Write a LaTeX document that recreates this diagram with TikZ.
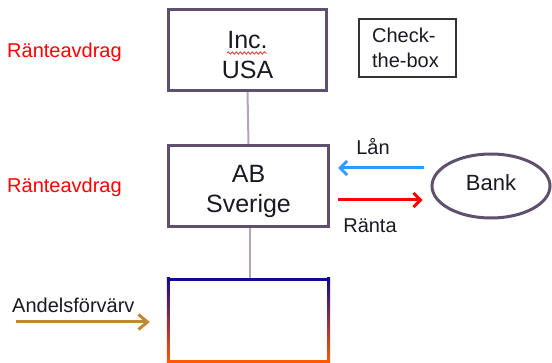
\documentclass[tikz,border=0pt]{standalone}
\usepackage{fontspec}
\setmainfont{Liberation Sans}
\usetikzlibrary{arrows.meta,shapes.geometric,decorations.pathmorphing}

\definecolor{boxline}{RGB}{95,80,110}
\definecolor{linkline}{RGB}{180,165,190}
\definecolor{loanblue}{RGB}{51,153,255}
\definecolor{ratered}{RGB}{255,0,0}
\definecolor{buybrown}{RGB}{192,136,52}
\definecolor{gradtop}{RGB}{20,10,140}
\definecolor{gradmid}{RGB}{190,10,100}
\definecolor{gradbot}{RGB}{255,90,0}
\definecolor{txt}{RGB}{25,25,35}

\tikzset{
  entity/.style={draw=boxline, line width=3pt, rectangle, inner sep=0pt,
    minimum width=160pt, minimum height=81pt},
  entitytext/.style={align=center, text=txt, inner sep=0pt,
    font=\fontsize{25}{30}\selectfont},
  link/.style={draw=linkline, line width=2pt},
  flow/.style={line width=3pt, -{Straight Barb[length=7pt,width=14pt]}},
  sidelabel/.style={font=\fontsize{20}{24}\selectfont, inner sep=0pt},
}

\begin{document}
\begin{tikzpicture}[x=1pt,y=-1pt]
  \useasboundingbox (0,0) rectangle (552,363);

  % companies
  \node[entity, minimum width=158pt] (inc) at (247.5,50) {};
  \node[entitytext] (inctext) at ([yshift=-5pt]inc.center) {Inc.\\USA};
  \node[entity] (ab) at (248.5,186) {};
  \node[entitytext] (abtext) at ([yshift=-5pt]ab.center) {AB\\Sverige};
  \node[inner sep=0pt, minimum width=163pt, minimum height=85pt] (target) at (248.5,320.5) {};

  % target frame: gradient sides, solid top and bottom edges
  \shade[top color=gradtop, middle color=gradmid, bottom color=gradbot]
    (target.north west) rectangle ([xshift=3pt]target.south west);
  \shade[top color=gradtop, middle color=gradmid, bottom color=gradbot]
    ([xshift=-3pt]target.north east) rectangle (target.south east);
  \fill[gradtop] (target.north west) rectangle ([yshift=-3pt]target.north east);
  \fill[gradbot] ([yshift=3pt]target.south west) rectangle (target.south east);

  % spell-check squiggle under "Inc."
  \draw[red!80, line width=0.8pt, decorate,
        decoration={snake, amplitude=1.2pt, segment length=4pt}]
    (227,53) -- (267,53);

  % ownership links
  \draw[link] (inc.south) -- (ab.north);
  \draw[link] ([xshift=1.5pt]ab.south) -- ([xshift=1.5pt]target.north);

  % check-the-box note
  \node[draw=black!80, line width=2pt, minimum width=97pt, minimum height=58pt,
        align=left, text=txt, font=\fontsize{20}{25}\selectfont] (ctb) at (407.5,48)
        {Check-\\the-box\hspace*{4pt}};

  % bank
  \node[ellipse, draw=boxline, line width=3pt, inner sep=0pt,
        minimum width=118pt, minimum height=64pt] (bank) at (491,186) {};
  \node[text=txt, inner sep=0pt, font=\fontsize{22}{26}\selectfont] (banktext)
    at ([yshift=3pt]bank.center) {Bank};

  % loan and interest flows
  \draw[flow, loanblue] ([shift={(-7,-18)}]bank.west) -- ([shift={(8,-18)}]ab.east);
  \draw[flow, ratered] ([shift={(8,14)}]ab.east) -- ([shift={(-8,14)}]bank.west);
  \node[sidelabel, text=txt] (lan) at (373,147) {Lån};
  \node[sidelabel, text=txt] (ranta) at (370,226) {Ränta};

  % interest deduction labels
  \node[sidelabel, text=ratered, anchor=west] (ded1) at (7,52) {Ränteavdrag};
  \node[sidelabel, text=ratered, anchor=west] (ded2) at (7,187) {Ränteavdrag};

  % share acquisition
  \node[sidelabel, text=txt, anchor=west] (acq) at (12,305) {Andelsförvärv};
  \coordinate (acqstart) at (16,322);
  \draw[flow, buybrown, -{Straight Barb[length=9pt,width=15pt]}]
    (acqstart) -- ([shift={(-17,1.5)}]target.west);
\end{tikzpicture}
\end{document}
